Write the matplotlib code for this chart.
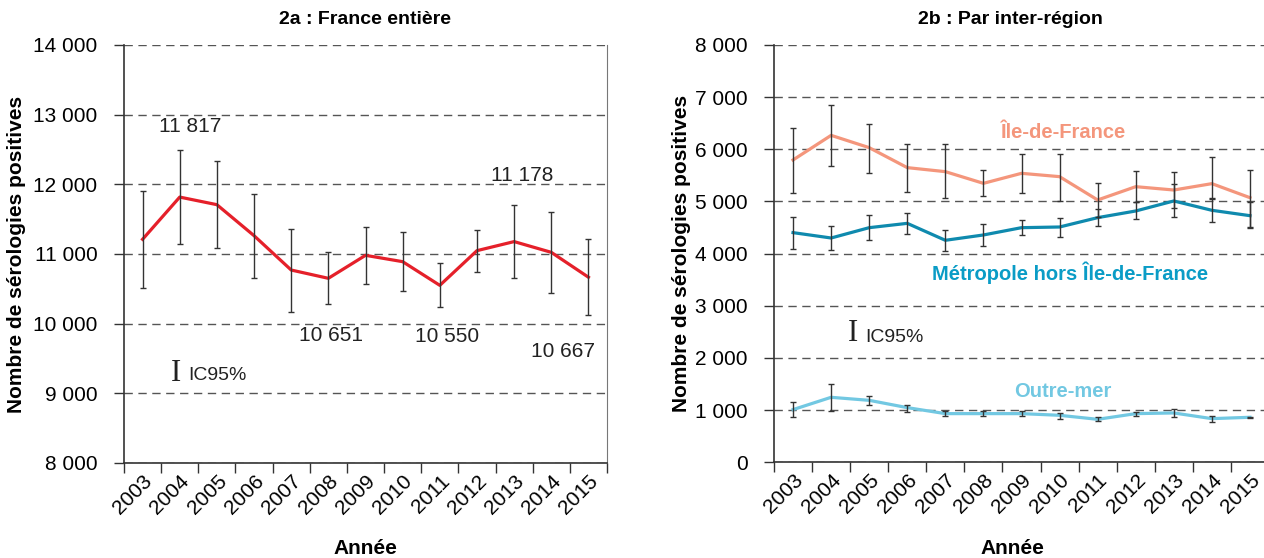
import matplotlib
matplotlib.use('Agg')
import matplotlib.pyplot as plt
import numpy as np

plt.rcParams['font.family'] = ['Liberation Sans', 'DejaVu Sans']

years = [str(y) for y in range(2003, 2016)]

# 2a : France entiere
france = [11211, 11817, 11708, 11263, 10770, 10651, 10981, 10890, 10550, 11048, 11178, 11024, 10667]
france_hi = [11909, 12488, 12330, 11856, 11359, 11024, 11392, 11311, 10876, 11340, 11699, 11603, 11220]
france_lo = [10517, 11144, 11081, 10660, 10172, 10282, 10565, 10464, 10234, 10746, 10656, 10435, 10124]
france_notes = ['11 817', '11 178', '10 651', '10 550', '10 667']

# 2b : par inter-region
idf = [5796, 6268, 6032, 5649, 5572, 5348, 5540, 5476, 5029, 5284, 5220, 5342, 5073]
idf_hi = [6415, 6850, 6486, 6096, 6096, 5604, 5917, 5904, 5361, 5578, 5572, 5859, 5604]
idf_lo = [5157, 5681, 5540, 5182, 5061, 5099, 5157, 5016, 4709, 4984, 4869, 5048, 4518]

metro = [4403, 4300, 4498, 4581, 4256, 4358, 4498, 4511, 4690, 4818, 5010, 4831, 4728]
metro_hi = [4709, 4537, 4741, 4773, 4460, 4575, 4652, 4690, 4850, 4984, 5329, 5061, 4984]
metro_lo = [4089, 4064, 4262, 4377, 4045, 4141, 4351, 4326, 4524, 4665, 4696, 4601, 4498]

om = [1010, 1246, 1188, 1048, 933, 933, 933, 901, 824, 933, 946, 837, 863]
om_hi = [1163, 1495, 1265, 1099, 984, 990, 990, 952, 863, 965, 1029, 882, 875]
om_lo = [863, 990, 1105, 965, 882, 882, 882, 837, 786, 895, 863, 780, 843]

regions = ['Île-de-France', 'Métropole hors Île-de-France', 'Outre-mer']
region_colors = ['#f4967c', '#0f8aae', '#72c8e2']
region_text_colors = ['#f4967c', '#0a9cc6', '#72c8e2']


def fmt(v):
    return '{:,}'.format(int(v)).replace(',', ' ')


def style_axis(ax, ymin, ymax, step):
    n = len(years)
    x = np.arange(n)
    ax.set_xlim(-0.5, n - 0.5)
    ax.set_ylim(ymin, ymax)
    ax.set_xticks(np.arange(-0.5, n, 1.0))
    ax.set_xticklabels([])
    ax.set_xticks(x, minor=True)
    ax.set_xticklabels(years, minor=True, rotation=45, ha='right',
                       va='top', rotation_mode='anchor', fontsize=15)
    ax.tick_params(axis='x', which='major', length=7, width=1, color='#333333')
    ax.tick_params(axis='x', which='minor', length=0, pad=6)
    ticks = np.arange(ymin, ymax + 1, step)
    ax.set_yticks(ticks)
    ax.set_yticklabels([fmt(t) for t in ticks], fontsize=15)
    ax.tick_params(axis='y', length=7, width=1, color='#333333', pad=12)
    ax.yaxis.grid(True, linestyle=(0, (6, 4)), color='#555555', linewidth=1)
    ax.set_axisbelow(True)
    ax.spines['top'].set_visible(False)
    for s in ['left', 'bottom']:
        ax.spines[s].set_color('#333333')
        ax.spines[s].set_linewidth(1.2)


def draw_series(ax, vals, hi, lo, color, lw=2.3):
    x = np.arange(len(vals))
    v = np.array(vals)
    yerr = [v - np.array(lo), np.array(hi) - v]
    ax.plot(x, v, color=color, linewidth=lw, zorder=3)
    ax.errorbar(x, v, yerr=yerr, fmt='none', ecolor='#333333',
                elinewidth=1, capsize=2.3, capthick=1, zorder=4)


fig = plt.figure(figsize=(12.64, 5.58), dpi=100)
ax1 = fig.add_axes([124 / 1264, 95 / 558, 483 / 1264, 418 / 558])
ax2 = fig.add_axes([774 / 1264, 95.7 / 558, 495 / 1264, 417.3 / 558])

# left panel
style_axis(ax1, 8000, 14000, 1000)
ax1.spines['right'].set_color('#777777')
draw_series(ax1, france, france_hi, france_lo, '#e5202a')
note_pos = [(1.28, 12823), (10.21, 12120), (5.07, 9823), (8.19, 9809), (11.32, 9594)]
for txt, (px, py) in zip(france_notes, note_pos):
    ax1.text(px, py, txt, fontsize=15, ha='center', va='center', color='#222222')
ax1.text(0.9, 9290, 'I', family=['Liberation Serif', 'DejaVu Serif'], fontsize=22,
         ha='center', va='center', color='#222222')
ax1.text(1.22, 9250, 'IC95%', fontsize=14, ha='left', va='center', color='#222222')
ax1.set_ylabel('Nombre de sérologies positives', fontsize=15, fontweight='bold')
ax1.yaxis.set_label_coords(-0.203, 0.5)

# right panel
style_axis(ax2, 0, 8000, 1000)
ax2.spines['right'].set_visible(False)
series = [(idf, idf_hi, idf_lo), (metro, metro_hi, metro_lo), (om, om_hi, om_lo)]
for (vals, hi, lo), c in zip(series, region_colors):
    draw_series(ax2, vals, hi, lo, c)
label_pos = [(7.09, 6313), (7.27, 3629), (7.09, 1348)]
for name, c, (px, py) in zip(regions, region_text_colors, label_pos):
    ax2.text(px, py, name, fontsize=14.5, fontweight='bold', color=c, ha='center', va='center')
ax2.text(1.57, 2470, 'I', family=['Liberation Serif', 'DejaVu Serif'], fontsize=22,
         ha='center', va='center', color='#222222')
ax2.text(1.89, 2384, 'IC95%', fontsize=14, ha='left', va='center', color='#222222')
ax2.set_ylabel('Nombre de sérologies positives', fontsize=15, fontweight='bold')
ax2.yaxis.set_label_coords(-0.168, 0.5)

fig.text(365 / 1264, 1 - 20 / 558, '2a : France entière', fontsize=14, fontweight='bold',
         ha='center', va='center')
fig.text(1010 / 1264, 1 - 20 / 558, '2b : Par inter-région', fontsize=14, fontweight='bold',
         ha='center', va='center')
fig.text(365 / 1264, 1 - 548 / 558, 'Année', fontsize=15, fontweight='bold',
         ha='center', va='center')
fig.text(1012 / 1264, 1 - 548 / 558, 'Année', fontsize=15, fontweight='bold',
         ha='center', va='center')

fig.savefig('out.png', dpi=100)
plt.close(fig)
